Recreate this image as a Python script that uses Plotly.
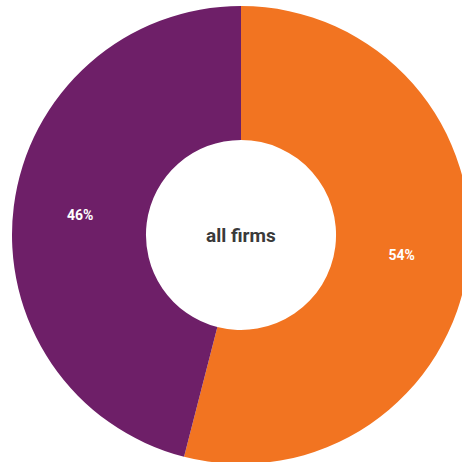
import plotly.graph_objects as go

labels = ["Yes", "No"]
values = [54, 46]
colors = ["#F27421", "#6E1F68"]
center_label = "all firms"

fig = go.Figure(go.Pie(
    labels=labels,
    values=values,
    hole=0.415,
    sort=False,
    direction="clockwise",
    rotation=0,
    marker=dict(colors=colors, line=dict(width=0)),
    textinfo="percent",
    texttemplate="%{percent:.0%}",
    textposition="inside",
    insidetextorientation="horizontal",
    textfont=dict(family="Roboto", size=14, color="white", weight="bold"),
    showlegend=False,
    hoverinfo="label+percent",
))

fig.add_annotation(
    text="<b>" + center_label + "</b>",
    x=0.5, y=0.5, xref="paper", yref="paper",
    showarrow=False,
    font=dict(family="Roboto", size=19, color="#3a3a3a"),
)

fig.update_layout(
    width=480, height=470,
    margin=dict(l=12, r=10, t=6, b=6),
    paper_bgcolor="white",
    plot_bgcolor="white",
)

fig.write_html(
    "out.html",
    post_script="document.documentElement.style.overflow='hidden';document.body.style.overflow='hidden';document.body.style.margin='0';",
)
